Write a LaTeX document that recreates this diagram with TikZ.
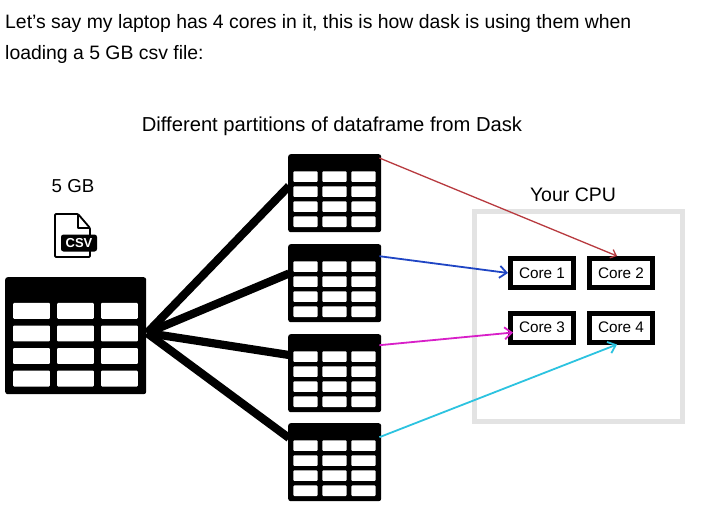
\documentclass[tikz,border=0pt]{standalone}
\usepackage{fontspec}
\setmainfont{Liberation Sans}
\usetikzlibrary{positioning, arrows.meta}

\definecolor{cpugray}{HTML}{E3E3E3}
\definecolor{redline}{HTML}{B83A3F}
\definecolor{blueline}{HTML}{1F45C4}
\definecolor{pinkline}{HTML}{D81FC8}
\definecolor{cyanline}{HTML}{2CC3E0}

\tikzset{
  tablebox/.style={fill=black, rounded corners=2.5pt, anchor=north west, inner sep=0pt},
  cellbox/.style={fill=white, rounded corners=1pt},
  corebox/.style={draw=black, line width=5pt, fill=white, minimum width=63pt, minimum height=29pt, inner sep=0pt, font=\fontsize{15.3}{16}\selectfont},
  feed/.style={line width=8.2pt, draw=black},
  toCore/.style={-{Straight Barb[length=7pt,width=12pt]}, line width=1.8pt},
  caption/.style={inner sep=0pt, font=\fontsize{19.5}{22}\selectfont},
  bodytext/.style={inner sep=0pt, anchor=base west, font=\fontsize{19.4}{22}\selectfont}
}

% name, x, y, width, height
\newcommand{\datatable}[5]{
  \node[tablebox, minimum width=#4pt, minimum height=#5pt] (#1) at (#2,#3) {};
  \foreach \col in {0,1,2} {
    \foreach \row in {0,1,2,3} {
      \fill[cellbox] ({#2+#4*(0.057+0.312*\col)},{#3-#5*(0.222+0.193*\row)})
        rectangle ++({#4*0.262},{-#5*0.135});
    }
  }
}

\begin{document}
\begin{tikzpicture}[x=1pt, y=1pt]
  \useasboundingbox (0,0) rectangle (701,-508);
  \fill[white] (0,0) rectangle (701,-508);

  \node[bodytext] (line1) at (5,-29) {Let’s say my laptop has 4 cores in it, this is how dask is using them when};
  \node[bodytext] (line2) at (5,-60) {loading a 5 GB csv file:};
  \node[caption, font=\fontsize{20.2}{22}\selectfont] (parts) at (332,-126) {Different partitions of dataframe from Dask};
  \node[caption, font=\fontsize{18.7}{22}\selectfont] (size) at (73,-186) {5 GB};
  \node[caption] (cpulabel) at (573,-195) {Your CPU};

  % csv icon
  \draw[line width=1.8pt, line join=round, rounded corners=1pt] (55,-214) -- (78,-214) -- (90,-228) -- (90,-257) -- (55,-257) -- cycle;
  \draw[line width=1.8pt, line join=round] (78,-214) -- (78,-228) -- (90,-228);
  \node[fill=black, rounded corners=2.5pt, text=white, minimum width=36pt, minimum height=17pt, inner sep=0pt, font=\bfseries\fontsize{13}{13}\selectfont] (csv) at (79,-243) {CSV};

  \datatable{bigtable}{5}{-277}{141}{117}
  \datatable{part1}{288}{-154}{93}{78}
  \datatable{part2}{288}{-244}{93}{78}
  \datatable{part3}{288}{-334}{93}{78}
  \datatable{part4}{288}{-423}{93}{78}

  \draw[cpugray, line width=5pt] (474.5,-211.5) rectangle (682.5,-421.5);
  \node[corebox] (core1) at (542,-273) {Core 1};
  \node[corebox] (core2) at (621,-273) {Core 2};
  \node[corebox] (core3) at (542,-327.5) {\raisebox{1pt}{Core 3}};
  \node[corebox] (core4) at (621,-327.5) {\raisebox{1pt}{Core 4}};

  \coordinate (hub) at (147,-333);
  \coordinate (in1) at (289,-186);
  \coordinate (in2) at (289,-273.5);
  \coordinate (in3) at (289,-355);
  \coordinate (in4) at (289,-438);
  \foreach \n in {1,2,3,4} \draw[feed] (hub) -- (in\n);

  \draw[toCore, redline, line width=1.3pt, -{Straight Barb[length=5pt,width=9pt]}] ([shift={(-2,-4)}]part1.north east) -- ([xshift=-4pt]core2.north);
  \draw[toCore, blueline] ([shift={(-2,27)}]part2.east) -- (core1.west);
  \draw[toCore, pinkline] ([shift={(-2,28)}]part3.east) -- ([shift={(5,-5)}]core3.west);
  \draw[toCore, cyanline] ([shift={(-2,25)}]part4.east) -- ([xshift=-4pt]core4.south);
\end{tikzpicture}
\end{document}
